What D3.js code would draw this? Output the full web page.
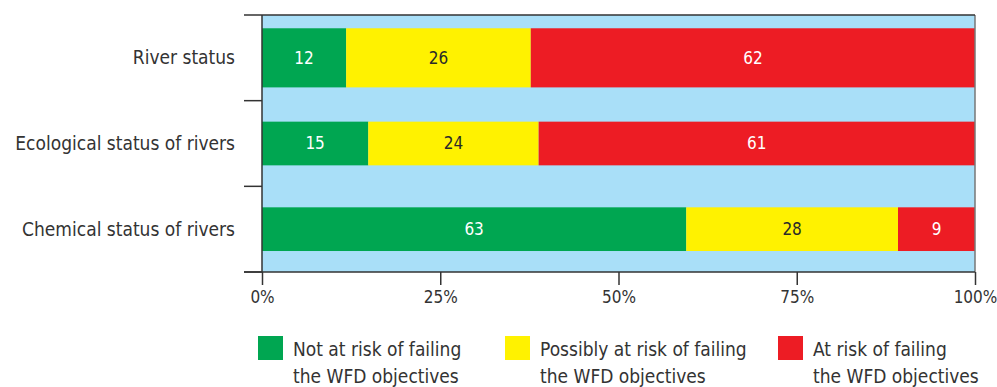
<!DOCTYPE html>
<meta charset="utf-8">
<style>
body {
  margin: 0;
  background: #fff;
}
text {
  font-family: "Liberation Sans Narrow", "DejaVu Sans Condensed", "Roboto", sans-serif;
  font-stretch: condensed;
}
.cat {
  font-size: 19px;
  fill: #333;
}
.tick text {
  font-size: 17px;
  fill: #333;
}
.val {
  font-size: 17px;
}
.legend text {
  font-size: 19px;
  fill: #333;
}
</style>
<body>
<script src="https://d3js.org/d3.v7.min.js"></script>
<script>

var width = 997,
    height = 387;

// data
var categories = ["River status", "Ecological status of rivers", "Chemical status of rivers"];
// bar lengths as drawn (%)
var notAtRisk = [11.8, 14.9, 59.5];
var possiblyAtRisk = [25.9, 23.9, 29.7];
var atRisk = [62.3, 61.2, 10.8];
// printed labels
var notAtRiskLabel = [12, 15, 63];
var possiblyAtRiskLabel = [26, 24, 28];
var atRiskLabel = [62, 61, 9];
var seriesKeys = ["not", "possibly", "at"];
var seriesLabels = [
  ["Not at risk of failing", "the WFD objectives"],
  ["Possibly at risk of failing", "the WFD objectives"],
  ["At risk of failing", "the WFD objectives"]
];
var xTicks = [0, 25, 50, 75, 100];

var colors = ["#00a651", "#fff200", "#ed1c24"];
var labelColors = ["#fff", "#2a2a2a", "#fff"];
var valueLabels = [notAtRiskLabel, possiblyAtRiskLabel, atRiskLabel];

var rows = categories.map(function(c, i) {
  return {cat: c, idx: i, not: notAtRisk[i], possibly: possiblyAtRisk[i], at: atRisk[i]};
});

var x = d3.scaleLinear()
    .domain([0, 100])
    .range([262, 975]);

var y = d3.scaleBand()
    .domain(categories)
    .range([15, 272]);

var svg = d3.select("body").append("svg")
    .attr("width", width)
    .attr("height", height);

// plot background
svg.append("rect")
    .attr("x", x(0))
    .attr("y", y.range()[0])
    .attr("width", x(100) - x(0))
    .attr("height", y.range()[1] - y.range()[0])
    .attr("fill", "#a9dff8");

var stack = d3.stack().keys(seriesKeys)(rows);

// first row drawn thicker, as in the original
function barH(i) { return i === 0 ? y.bandwidth() * 0.69 : y.bandwidth() * 0.51; }

stack.forEach(function(s, si) {
  var g = svg.append("g");
  g.selectAll("rect")
      .data(s)
    .enter().append("rect")
      .attr("x", function(d) { return x(d[0]); })
      .attr("width", function(d) { return x(d[1]) - x(d[0]); })
      .attr("y", function(d, i) { return y(d.data.cat) + (y.bandwidth() - barH(i)) / 2; })
      .attr("height", function(d, i) { return barH(i); })
      .attr("fill", colors[si]);
  g.selectAll("text")
      .data(s)
    .enter().append("text")
      .attr("class", "val")
      .attr("x", function(d) { return (x(d[0]) + x(d[1])) / 2; })
      .attr("y", function(d) { return y(d.data.cat) + y.bandwidth() / 2; })
      .attr("dy", "0.35em")
      .attr("text-anchor", "middle")
      .attr("fill", labelColors[si])
      .text(function(d) { return valueLabels[si][d.data.idx]; });
});

// right border
svg.append("line")
    .attr("x1", x(100)).attr("x2", x(100))
    .attr("y1", y.range()[0]).attr("y2", y.range()[1])
    .attr("stroke", "#777").attr("stroke-width", 1.5);

// top line
svg.append("line")
    .attr("x1", 244).attr("x2", x(100))
    .attr("y1", y.range()[0]).attr("y2", y.range()[0])
    .attr("stroke", "#333").attr("stroke-width", 1.5);

// y axis: ticks at band edges
var yAxis = svg.append("g");
yAxis.append("line")
    .attr("x1", x(0)).attr("x2", x(0))
    .attr("y1", y.range()[0]).attr("y2", y.range()[1])
    .attr("stroke", "#333").attr("stroke-width", 1.5);
yAxis.selectAll(".ytick")
    .data(categories)
  .enter().append("line")
    .attr("x1", 244).attr("x2", x(0))
    .attr("y1", function(d) { return y(d) + y.bandwidth(); })
    .attr("y2", function(d) { return y(d) + y.bandwidth(); })
    .attr("stroke", "#333").attr("stroke-width", 1.5);
yAxis.selectAll(".cat")
    .data(categories)
  .enter().append("text")
    .attr("class", "cat")
    .attr("x", 235)
    .attr("y", function(d) { return y(d) + y.bandwidth() / 2; })
    .attr("dy", "0.35em")
    .attr("text-anchor", "end")
    .text(function(d) { return d; });

// x axis
var xAxis = svg.append("g")
    .attr("transform", "translate(0," + y.range()[1] + ")")
    .call(d3.axisBottom(x).tickValues(xTicks).tickSize(13).tickPadding(6)
      .tickFormat(function(d) { return d + "%"; }));
xAxis.select(".domain").remove();
xAxis.selectAll(".tick line").attr("stroke", "#333").attr("stroke-width", 1.5);
xAxis.append("line")
    .attr("x1", 244).attr("x2", x(100))
    .attr("stroke", "#333").attr("stroke-width", 1.5);

// legend
var legendX = [258, 505, 778];
var legend = svg.selectAll(".legend")
    .data(seriesLabels)
  .enter().append("g")
    .attr("class", "legend")
    .attr("transform", function(d, i) { return "translate(" + legendX[i] + ",336)"; });
legend.append("rect")
    .attr("width", 25)
    .attr("height", 24)
    .attr("fill", function(d, i) { return colors[i]; });
legend.append("text")
    .attr("x", 35)
    .attr("y", 20)
    .text(function(d) { return d[0]; });
legend.append("text")
    .attr("x", 35)
    .attr("y", 47)
    .text(function(d) { return d[1]; });

</script>
